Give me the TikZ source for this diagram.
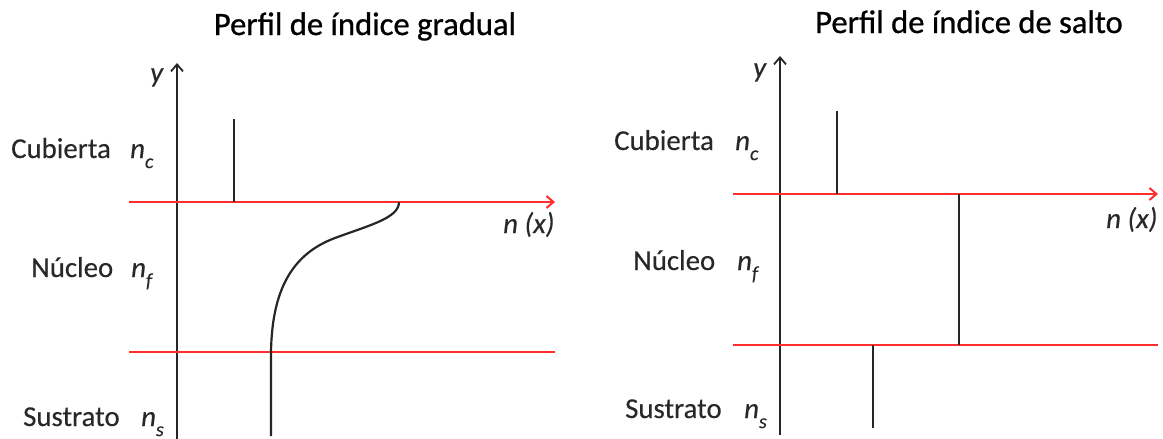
\documentclass[tikz,border=0pt]{standalone}
\usepackage{fontspec}
\setmainfont{Carlito}
\newfontfamily\titlefont[FakeBold=0.8]{Carlito}
\newfontfamily\labelfont[FakeBold=0.3,ItalicFeatures={FakeBold=0.3}]{Carlito}
\usetikzlibrary{arrows.meta}
\definecolor{redline}{RGB}{255,45,45}
\definecolor{labelgray}{RGB}{40,40,40}
\tikzset{
  axis/.style={line width=2.2pt, black!85, -{Straight Barb[length=7pt,width=12pt,line width=1.8pt]}},
  redaxis/.style={line width=2.6pt, redline, -{Straight Barb[length=7pt,width=12pt,line width=2pt]}},
  redlevel/.style={line width=2.6pt, redline},
  profile/.style={line width=2.2pt, black!85},
  lbl/.style={inner sep=0pt, anchor=base west, text=labelgray, font=\labelfont\fontsize{28.8}{30}\selectfont},
  ttl/.style={inner sep=0pt, anchor=base, text=black, font=\titlefont\fontsize{32.6}{34}\selectfont},
}
\newcommand{\idx}[1]{\textit{n}\raisebox{-0.35em}{\fontsize{20}{20}\selectfont\textit{#1}}}
\begin{document}
\begin{tikzpicture}[x=1pt,y=-1pt]
\useasboundingbox (0,0) rectangle (1163,439);
% ---------- left panel: gradual ----------
\node[ttl] (t1) at (365,35) {Perfil de índice gradual};
\coordinate (ya0) at (177,439);
\coordinate (ya1) at (177,63);
\coordinate (r1a) at (129,202);
\coordinate (r1b) at (555,202);
\coordinate (r2a) at (129,352);
\coordinate (r2b) at (555,352);
\coordinate (c1a) at (234,119);
\coordinate (c1b) at (234,202);
\coordinate (g0) at (399,202);
\coordinate (gm) at (335,238);
\coordinate (g1) at (271,352);
\coordinate (g2) at (271,436);
\draw[axis] (ya0) -- (ya1);
\draw[redaxis] (r1a) -- (r1b);
\draw[redlevel] (r2a) -- (r2b);
\draw[profile] (c1a) -- (c1b);
\draw[profile] (g0) .. controls (399,218) and (370,225) .. (gm)
  .. controls (292,254) and (272,290) .. (g1) -- (g2);
\node[lbl] (y1) at (150,82) {\textit{y}};
\node[lbl] (x1) at (503,233) {\textit{n (x)}};
\node[lbl] (cub1) at (11,158) {Cubierta};
\node[lbl] (nc1) at (130,158) {\idx{c}};
\node[lbl] (nuc1) at (31,277) {Núcleo};
\node[lbl] (nf1) at (131,277) {\idx{f}};
\node[lbl] (sus1) at (23,426) {Sustrato};
\node[lbl] (ns1) at (141,426) {\idx{s}};
% ---------- right panel: step ----------
\node[ttl] (t2) at (969,33) {Perfil de índice de salto};
\coordinate (yb0) at (780,435);
\coordinate (yb1) at (780,56);
\coordinate (s1a) at (733,194);
\coordinate (s1b) at (1158,194);
\coordinate (s2a) at (733,345);
\coordinate (s2b) at (1158,345);
\coordinate (v1a) at (837,111);
\coordinate (v1b) at (837,194);
\coordinate (v2a) at (959,194);
\coordinate (v2b) at (959,345);
\coordinate (v3a) at (873,345);
\coordinate (v3b) at (873,428);
\draw[axis] (yb0) -- (yb1);
\draw[redaxis] (s1a) -- (s1b);
\draw[redlevel] (s2a) -- (s2b);
\draw[profile] (v1a) -- (v1b);
\draw[profile] (v2a) -- (v2b);
\draw[profile] (v3a) -- (v3b);
\node[lbl] (y2) at (753,77) {\textit{y}};
\node[lbl] (x2) at (1106,228) {\textit{n (x)}};
\node[lbl] (cub2) at (614,150) {Cubierta};
\node[lbl] (nc2) at (735,150) {\idx{c}};
\node[lbl] (nuc2) at (633,270) {Núcleo};
\node[lbl] (nf2) at (737,270) {\idx{f}};
\node[lbl] (sus2) at (625,418) {Sustrato};
\node[lbl] (ns2) at (744,418) {\idx{s}};
\end{tikzpicture}
\end{document}
